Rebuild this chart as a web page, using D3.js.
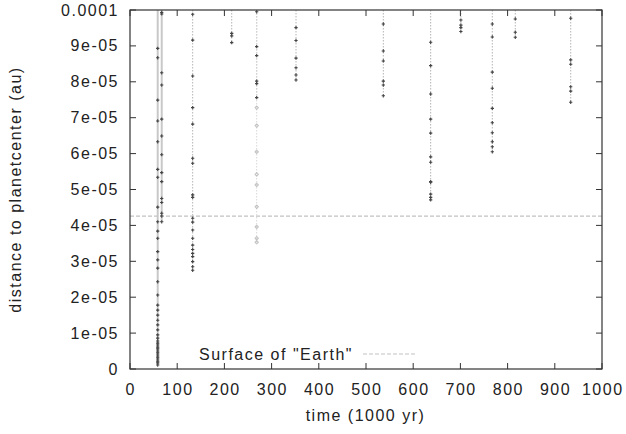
<!DOCTYPE html>
<html>
<head>
<meta charset="utf-8">
<script src="https://cdn.jsdelivr.net/npm/d3@7"></script>
<style>
  html, body { margin: 0; padding: 0; background: #fff; }
  text { font-family: "Liberation Sans", Arial, sans-serif; font-size: 16px; fill: #222; letter-spacing: 1.5px; }
</style>
</head>
<body>
<svg id="chart" width="626" height="434"></svg>
<script>
// Impact times (1000 yr) of each recorded approach track
const trackTimes = [58.7, 67.2, 132.8, 215.5, 268.4, 268.4, 351.7, 536.7, 637, 701, 767.6, 816.3, 933.7];

// Distance to planet centre (au) sampled along each track
const trackA = [8.93e-5, 8.67e-5, 7.49e-5, 6.91e-5, 6.33e-5, 5.56e-5, 5.34e-5, 4.51e-5, 4.10e-5, 3.84e-5, 3.64e-5,
  3.27e-5, 3.04e-5, 2.81e-5, 2.43e-5, 2.06e-5, 1.78e-5, 1.64e-5, 1.50e-5, 1.36e-5, 1.23e-5, 1.09e-5, 0.95e-5,
  0.86e-5, 0.78e-5, 0.72e-5, 0.67e-5, 0.61e-5, 0.56e-5, 0.50e-5, 0.45e-5, 0.39e-5, 0.33e-5, 0.28e-5, 0.22e-5,
  0.17e-5, 0.11e-5];
const trackB = [9.93e-5, 9.89e-5, 8.25e-5, 7.91e-5, 6.96e-5, 6.49e-5, 5.97e-5, 5.47e-5, 5.22e-5, 4.75e-5, 4.64e-5,
  4.34e-5, 4.26e-5, 4.10e-5];
const trackC = [9.88e-5, 9.16e-5, 8.16e-5, 7.28e-5, 6.82e-5, 5.87e-5, 5.73e-5, 4.85e-5, 4.78e-5, 4.20e-5, 4.09e-5,
  3.87e-5, 3.64e-5, 3.45e-5, 3.33e-5, 3.22e-5, 3.13e-5, 2.99e-5, 2.85e-5, 2.75e-5];
const trackD = [9.35e-5, 9.28e-5, 9.09e-5];
const trackE = [9.95e-5, 8.98e-5, 8.73e-5, 8.02e-5, 7.95e-5, 7.56e-5];
const trackE2 = [7.28e-5, 6.78e-5, 6.05e-5, 5.42e-5, 5.13e-5, 4.52e-5, 3.96e-5, 3.64e-5, 3.53e-5];
const trackF = [9.51e-5, 9.15e-5, 8.66e-5, 8.39e-5, 8.19e-5, 8.05e-5];
const trackG = [9.61e-5, 8.86e-5, 8.58e-5, 8.02e-5, 7.91e-5, 7.61e-5];
const trackH = [9.10e-5, 8.45e-5, 7.66e-5, 6.96e-5, 6.57e-5, 5.91e-5, 5.76e-5, 5.22e-5, 5.20e-5, 4.87e-5, 4.78e-5, 4.71e-5];
const trackI = [9.72e-5, 9.58e-5, 9.51e-5, 9.40e-5];
const trackJ = [9.61e-5, 9.25e-5, 8.27e-5, 7.82e-5, 7.26e-5, 6.86e-5, 6.58e-5, 6.33e-5, 6.19e-5, 6.05e-5];
const trackK = [9.75e-5, 9.38e-5, 9.24e-5];
const trackL = [9.77e-5, 8.61e-5, 8.49e-5, 7.86e-5, 7.74e-5, 7.43e-5];

const tracks = [trackA, trackB, trackC, trackD, trackE, trackE2, trackF, trackG, trackH, trackI, trackJ, trackK, trackL];
// Tracks sampled densely enough to read as a solid band, and the faint one
const denseTracks = [0, 1];
const faintTracks = [5];

// Radius of the Earth in au
const earthRadius = 4.26e-5;

const xTicks = [0, 100, 200, 300, 400, 500, 600, 700, 800, 900, 1000];
const yTicks = [0, 1e-5, 2e-5, 3e-5, 4e-5, 5e-5, 6e-5, 7e-5, 8e-5, 9e-5, 1e-4];
const yTickLabels = ["0", "1e-05", "2e-05", "3e-05", "4e-05", "5e-05", "6e-05", "7e-05", "8e-05", "9e-05", "0.0001"];

const xLabel = "time (1000 yr)";
const yLabel = "distance to planetcenter (au)";
const legendLabel = 'Surface of "Earth"';

// ---- layout ----
const svg = d3.select("#chart");
const margin = { left: 130, top: 10, right: 24, bottom: 65 };
const W = 626, H = 434;
const pw = W - margin.left - margin.right;
const ph = H - margin.top - margin.bottom;

const x = d3.scaleLinear().domain([0, 1000]).range([0, pw]);
const y = d3.scaleLinear().domain([0, 1e-4]).range([ph, 0]);

const g = svg.append("g").attr("transform", `translate(${margin.left},${margin.top})`);

svg.append("defs").append("clipPath").attr("id", "plotclip")
  .append("rect").attr("width", pw).attr("height", ph);

const plot = g.append("g").attr("clip-path", "url(#plotclip)");

// Earth surface reference line
plot.append("line")
  .attr("x1", 0).attr("x2", pw)
  .attr("y1", y(earthRadius)).attr("y2", y(earthRadius))
  .attr("stroke", "#c2c2c2").attr("stroke-width", 1.2)
  .attr("stroke-dasharray", "4,2");

// Each track: a vertical connector from the top of the range down to its deepest sample
tracks.forEach((vals, i) => {
  const t = trackTimes[i];
  const dense = denseTracks.includes(i);
  const faint = faintTracks.includes(i);
  plot.append("line")
    .attr("x1", x(t)).attr("x2", x(t))
    .attr("y1", y(1e-4)).attr("y2", y(d3.min(vals)))
    .attr("stroke", dense ? "#c8c8c8" : (faint ? "#d8d8d8" : "#b4b4b4"))
    .attr("stroke-width", dense ? 2 : 1)
    .attr("stroke-dasharray", dense ? null : "1.5,1.5");
});

// Sample points
const sym = d3.symbol().type(d3.symbolCross).size(6);
tracks.forEach((vals, i) => {
  const t = trackTimes[i];
  const faint = faintTracks.includes(i);
  plot.selectAll(null).data(vals).enter().append("path")
    .attr("d", sym)
    .attr("transform", d => `translate(${x(t)},${y(d)})`)
    .attr("fill", faint ? "none" : "#444")
    .attr("stroke", faint ? "#b0b0b0" : "none")
    .attr("stroke-width", 0.7);
});

// Frame
g.append("rect").attr("width", pw).attr("height", ph)
  .attr("fill", "none").attr("stroke", "#333").attr("stroke-width", 1.2);

// Inward ticks on all four sides
const tickLen = 6;
const tk = g.append("g").attr("stroke", "#333").attr("stroke-width", 1);
xTicks.forEach(v => {
  tk.append("line").attr("x1", x(v)).attr("x2", x(v)).attr("y1", ph).attr("y2", ph - tickLen);
  tk.append("line").attr("x1", x(v)).attr("x2", x(v)).attr("y1", 0).attr("y2", tickLen);
});
yTicks.forEach(v => {
  tk.append("line").attr("x1", 0).attr("x2", tickLen).attr("y1", y(v)).attr("y2", y(v));
  tk.append("line").attr("x1", pw).attr("x2", pw - tickLen).attr("y1", y(v)).attr("y2", y(v));
});

// Tick labels
g.selectAll(".xl").data(xTicks).enter().append("text")
  .attr("x", d => x(d) + 0.75).attr("y", ph + 26)
  .attr("text-anchor", "middle").text(d => d);

g.selectAll(".yl").data(yTicks).enter().append("text")
  .attr("x", -11).attr("y", d => y(d) + 5.5)
  .attr("text-anchor", "end").text((d, i) => yTickLabels[i]);

// Axis titles
g.append("text").attr("x", pw / 2 - 0.5).attr("y", ph + 52)
  .attr("text-anchor", "middle").text(xLabel);

svg.append("text")
  .attr("transform", `translate(21,${margin.top + ph / 2}) rotate(-90)`)
  .attr("text-anchor", "middle").text(yLabel);

// Legend
const lgY = 354;
svg.append("text").attr("x", 353).attr("y", lgY + 6)
  .attr("text-anchor", "end").text(legendLabel);
svg.append("line").attr("x1", 363).attr("x2", 416).attr("y1", lgY).attr("y2", lgY)
  .attr("stroke", "#c2c2c2").attr("stroke-width", 1.2).attr("stroke-dasharray", "4,2");
</script>
</body>
</html>
